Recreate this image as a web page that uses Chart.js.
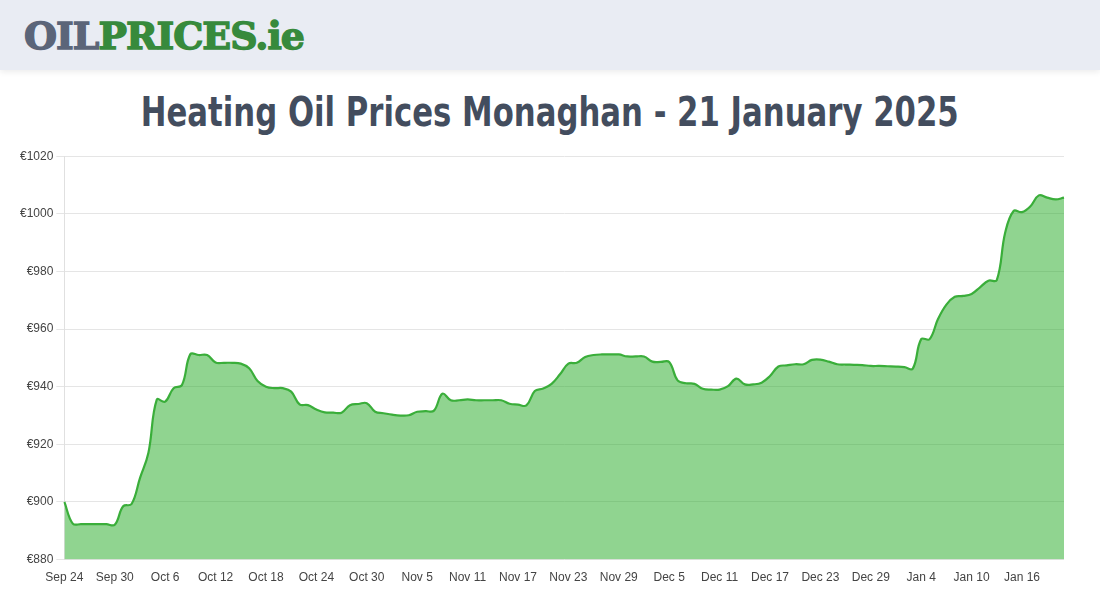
<!DOCTYPE html>
<html>
<head>
<meta charset="utf-8">
<script src="https://cdn.jsdelivr.net/npm/chart.js@4.4.1/dist/chart.umd.min.js"></script>
<style>
  html, body { margin: 0; padding: 0; background: #fff; width: 1100px; height: 600px; overflow: hidden; }
  #header { position: absolute; left: 0; top: 0; width: 1100px; height: 70px; background: #e9ecf3; box-shadow: 0 2px 6px rgba(0,0,0,0.08); }
  #logo { position: absolute; left: 24px; top: 13px; font-family: "DejaVu Serif", serif; font-weight: bold; font-size: 38px; letter-spacing: -1px; white-space: nowrap; transform-origin: 0 0; -webkit-text-stroke: 1.4px currentColor; }
  #logo .a { color: #5b6579; }
  #logo .b { color: #378a3c; }
  #title { position: absolute; left: 0; top: 88px; width: 1100px; text-align: center; white-space: nowrap; }
  #title span { display: inline-block; font-family: "Liberation Sans Narrow", "DejaVu Sans Condensed", sans-serif; font-weight: bold; font-size: 41px; color: #434d5e; transform-origin: 50% 0; }
  #wrap { position: absolute; left: 0; top: 146px; width: 1100px; height: 442px; }
</style>
</head>
<body>
<div id="header"><div id="logo"><span class="a">OIL</span><span class="b">PRICES.ie</span></div></div>
<div id="title"><span id="tt">Heating Oil Prices Monaghan - 21 January 2025</span></div>
<div id="wrap"><canvas id="c"></canvas></div>
<script>
const startMonthDays = [["Sep",24,30],["Oct",1,31],["Nov",1,30],["Dec",1,31],["Jan",1,21]];
const categories = [];
for (const [m, a, b] of startMonthDays) { for (let d = a; d <= b; d++) categories.push(m + " " + d); }

const prices = [
  900.0, 892.5, 892.3, 892.3, 892.3, 892.3, 892.1, 898.5, 899.3, 908.3,
  917.0, 935.5, 934.8, 939.5, 940.6, 951.3, 951.0, 951.0, 948.4, 948.3,
  948.3, 948.0, 946.4, 942.0, 940.0, 939.5, 939.5, 938.3, 933.9, 933.6,
  932.1, 931.1, 931.0, 931.0, 933.6, 934.0, 934.3, 931.3, 930.8, 930.3,
  930.0, 930.1, 931.3, 931.5, 931.7, 937.6, 935.3, 935.3, 935.6, 935.3,
  935.3, 935.3, 935.3, 934.1, 933.8, 933.5, 938.5, 939.4, 941.0, 944.3,
  948.0, 948.3, 950.3, 951.0, 951.2, 951.2, 951.2, 950.5, 950.5, 950.5,
  948.7, 948.6, 948.6, 942.2, 941.2, 941.0, 939.3, 939.0, 939.0, 940.2,
  942.8, 940.8, 940.8, 941.4, 943.7, 947.0, 947.4, 947.8, 947.8, 949.3,
  949.4, 948.7, 947.8, 947.7, 947.6, 947.5, 947.2, 947.2, 947.1, 947.0,
  946.8, 946.3, 956.5, 956.5, 963.5, 968.5, 971.2, 971.5, 972.2, 974.5,
  976.8, 977.0, 993.5, 1001.0, 1000.6, 1002.6, 1006.4, 1005.6, 1005.0, 1005.6
];

const yTicks = [880, 900, 920, 940, 960, 980, 1000, 1020];

const tt = document.getElementById('tt');
const tw = tt.getBoundingClientRect().width;
tt.style.transform = 'scaleX(' + (818 / tw) + ')';
const lg = document.getElementById('logo');
const lw = lg.getBoundingClientRect().width;
lg.style.transform = 'scaleX(' + (280 / lw) + ')';

new Chart(document.getElementById('c'), {
  type: 'line',
  data: {
    labels: categories,
    datasets: [{
      data: prices,
      borderColor: '#3aae3a',
      backgroundColor: 'rgba(34,170,34,0.5)',
      borderWidth: 2.2,
      fill: 'origin',
      pointRadius: 0,
      tension: 0.4
    }]
  },
  options: {
    responsive: true,
    maintainAspectRatio: false,
    animation: false,
    layout: { padding: { left: 17, right: 36, top: 4, bottom: 0 } },
    plugins: { legend: { display: false }, tooltip: { enabled: false } },
    scales: {
      x: {
        grid: { display: false },
        border: { display: false },
        ticks: {
          autoSkip: false, maxRotation: 0, minRotation: 0, padding: 3,
          color: '#444', font: { family: 'Liberation Sans, Arial, sans-serif', size: 12 },
          callback: function(v, i) { return i % 6 === 0 ? categories[i] : ''; }
        }
      },
      y: {
        min: yTicks[0], max: yTicks[yTicks.length - 1],
        afterBuildTicks: (ax) => { ax.ticks = yTicks.map(v => ({ value: v })); },
        grid: { color: '#e5e5e5', tickLength: 8 },
        border: { display: true, color: '#e0e0e0' },
        ticks: {
          padding: 3, color: '#444', font: { family: 'Liberation Sans, Arial, sans-serif', size: 12 },
          callback: (v) => '€' + v
        }
      }
    }
  }
});
</script>
</body>
</html>
